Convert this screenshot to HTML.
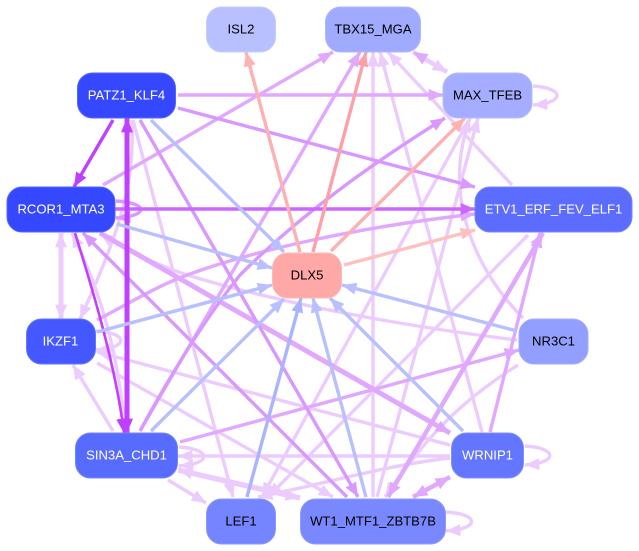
<!DOCTYPE html>
<html><head><meta charset="utf-8"><style>
html,body{margin:0;padding:0;background:#fff}
svg{display:block}
text{font-family:"Liberation Sans",sans-serif;font-size:13.1px;text-anchor:middle;dominant-baseline:central}
</style></head><body>
<svg width="639" height="551" viewBox="0 0 639 551" xmlns="http://www.w3.org/2000/svg">
<defs>
<marker id="l" viewBox="0 -5 12 10" refX="12" refY="0" markerWidth="14.400" markerHeight="12" markerUnits="userSpaceOnUse" orient="auto-start-reverse"><path d="M0,-5L12,0L0,5z" fill="#ecccff"/></marker>
<marker id="p" viewBox="0 -5 12 10" refX="12" refY="0" markerWidth="14.400" markerHeight="12" markerUnits="userSpaceOnUse" orient="auto-start-reverse"><path d="M0,-5L12,0L0,5z" fill="#e0a8ff"/></marker>
<marker id="m" viewBox="0 -5 12 10" refX="12" refY="0" markerWidth="14.400" markerHeight="12" markerUnits="userSpaceOnUse" orient="auto-start-reverse"><path d="M0,-5L12,0L0,5z" fill="#d898ff"/></marker>
<marker id="n" viewBox="0 -5 12 10" refX="12" refY="0" markerWidth="14.400" markerHeight="12" markerUnits="userSpaceOnUse" orient="auto-start-reverse"><path d="M0,-5L12,0L0,5z" fill="#cc66ff"/></marker>
<marker id="s" viewBox="0 -5 12 10" refX="12" refY="0" markerWidth="14.400" markerHeight="12" markerUnits="userSpaceOnUse" orient="auto-start-reverse"><path d="M0,-5L12,0L0,5z" fill="#c040ff"/></marker>
<marker id="b" viewBox="0 -5 12 10" refX="12" refY="0" markerWidth="14.400" markerHeight="12" markerUnits="userSpaceOnUse" orient="auto-start-reverse"><path d="M0,-5L12,0L0,5z" fill="#b8c0ff"/></marker>
<marker id="d" viewBox="0 -5 12 10" refX="12" refY="0" markerWidth="14.400" markerHeight="12" markerUnits="userSpaceOnUse" orient="auto-start-reverse"><path d="M0,-5L12,0L0,5z" fill="#aab4ff"/></marker>
<marker id="r" viewBox="0 -5 12 10" refX="12" refY="0" markerWidth="14.400" markerHeight="12" markerUnits="userSpaceOnUse" orient="auto-start-reverse"><path d="M0,-5L12,0L0,5z" fill="#ffb0b0"/></marker>
<marker id="q" viewBox="0 -5 12 10" refX="12" refY="0" markerWidth="14.400" markerHeight="12" markerUnits="userSpaceOnUse" orient="auto-start-reverse"><path d="M0,-5L12,0L0,5z" fill="#ffa0a8"/></marker>
<marker id="t" viewBox="0 -5 12 10" refX="12" refY="0" markerWidth="14.400" markerHeight="12" markerUnits="userSpaceOnUse" orient="auto-start-reverse"><path d="M0,-5L12,0L0,5z" fill="#ffc0c0"/></marker>
</defs>

<g fill="none" stroke-width="3.400">
<!-- lightest purple -->
<g stroke="#ecccff" marker-end="url(#l)">
<path d="M373,497L373,52"/>
<path d="M482,432L380,52"/>
<path d="M512,185L388,52"/>
<path d="M523,318C480,275 440,200 470,118"/>
<path d="M377,497L478,118"/>
<path d="M470,118L262,497"/>
<path d="M528,235L268,497"/>
<path d="M450,458C387,465 320,485 258,497"/>
<path d="M133,120L233,497"/>
<path d="M168,480L206,503"/>
<path d="M97,363L333,497"/>
<path d="M450,445L97,352"/>
<path d="M517,340C450,332 310,312 187,275C150,262 125,250 100,233"/>
<path d="M450,456L178,456"/>
<path d="M132,120C134,180 125,220 80,319"/>
<path d="M125,431C118,350 100,290 72,233"/>
<path d="M113,431L73,365"/>
<path d="M518,365C470,395 430,430 385,497"/>
<path d="M533,86C565,88 565,103 533,105"/>
<path d="M179,447C212,449 212,464 179,466"/>
<path d="M525,446C558,448 558,463 525,465"/>
<path d="M446,512C480,514 480,529 446,531"/>
<path d="M96,331C129,333 129,348 96,350"/>
<path d="M178,470L300,498" stroke-width="5.500" marker-start="url(#l)"/>
<path d="M61,233L61,319" stroke-width="5" marker-start="url(#l)"/>
<path d="M413,52L447,72" stroke-width="4.500" marker-start="url(#p)"/>
</g>
<!-- light purple -->
<g stroke="#e0a8ff" marker-end="url(#p)">
<path d="M178,95L443,95"/>
<path d="M103,185L333,52"/>
<path d="M140,431L360,52"/>
<path d="M97,320C130,303 155,287 187,275C250,252 350,228 475,214"/>
<path d="M180,442L519,350"/>
<path d="M100,233L450,433" stroke-width="5" />
<path d="M413,497L450,477" stroke-width="4.500" marker-start="url(#p)"/>
<path d="M388,497L543,233" stroke-width="4.500" marker-start="url(#p)"/>
<path d="M490,432L540,233"/>
</g>
<!-- medium purple -->
<g stroke="#d898ff" marker-end="url(#m)">
<path d="M178,108L475,187"/>
<path d="M140,120L358,497"/>
<path d="M140,431C165,385 200,325 240,275C300,215 370,165 445,118"/>
<path d="M347,497L83,233"/>
<path d="M116,201C149,203 149,216 116,218"/>
</g>
<g stroke="#cc66ff" marker-end="url(#n)"><path d="M115,209L475,209"/></g>
<!-- strong purple -->
<g stroke="#c040ff" marker-end="url(#s)">
<path d="M113,120L74,187"/>
<path d="M75,233C88,275 115,360 124,433" stroke-width="2.600"/>
<path d="M127,118L127,433" stroke-width="5" marker-start="url(#s)"/>
</g>
<!-- blue -->
<g stroke="#b8c0ff" marker-end="url(#b)">
<path d="M151,120L284,252"/>
<path d="M117,224L272,268"/>
<path d="M97,332L272,285"/>
<path d="M151,431L284,299"/>
<path d="M366,497L313,298"/>
<path d="M463,431L330,298"/>
<path d="M517,331L342,285"/>
</g>
<g stroke="#aab4ff" marker-end="url(#d)"><path d="M247,497L301,298"/></g>
<!-- red -->
<g stroke="#ffb0b0" marker-end="url(#r)">
<path d="M300,252L246,52"/>
<path d="M331,251L465,118"/>
</g>
<g stroke="#ffa0a8" marker-end="url(#q)"><path d="M313,252L366,52"/></g>
<g stroke="#ffc0c0" marker-end="url(#t)"><path d="M344,265L475,230"/></g>
</g>

<!-- nodes -->
<g stroke-width="1">
<rect x="206.500" y="7" width="69" height="45" rx="15" fill="#b8c0ff" stroke="#c8ceff"/>
<rect x="325.500" y="7" width="95" height="45" rx="15" fill="#a0aaff" stroke="#b0b8ff"/>
<rect x="77.500" y="73" width="98" height="45" rx="15" fill="#3548ff" stroke="#5566ff"/>
<rect x="443" y="73" width="89" height="45" rx="15" fill="#a4adff" stroke="#b4bcff"/>
<rect x="7" y="187" width="108" height="45" rx="15" fill="#3548ff" stroke="#5566ff"/>
<rect x="475" y="187" width="157" height="45" rx="15" fill="#5c6cff" stroke="#7784ff"/>
<rect x="272.500" y="253" width="69" height="45" rx="15" fill="#ffa8a8" stroke="#ffb8b8"/>
<rect x="26.500" y="319" width="69" height="45" rx="15" fill="#4558ff" stroke="#6676ff"/>
<rect x="519" y="319" width="69" height="45" rx="15" fill="#929fff" stroke="#a4afff"/>
<rect x="75.500" y="433" width="102" height="45" rx="15" fill="#586bff" stroke="#7585ff"/>
<rect x="451.500" y="433" width="72" height="45" rx="15" fill="#6475ff" stroke="#8090ff"/>
<rect x="206.500" y="499" width="69" height="45" rx="15" fill="#7585ff" stroke="#8a98ff"/>
<rect x="300.500" y="499" width="145" height="45" rx="15" fill="#7a88ff" stroke="#8f9bff"/>
</g>
<text x="241" y="29" fill="#000">ISL2</text>
<text x="373" y="29" fill="#000">TBX15_MGA</text>
<text x="126.500" y="95" fill="#fff">PATZ1_KLF4</text>
<text x="487.500" y="95" fill="#000">MAX_TFEB</text>
<text x="61" y="209" fill="#fff">RCOR1_MTA3</text>
<text x="553.500" y="209" fill="#fff">ETV1_ERF_FEV_ELF1</text>
<text x="307" y="275" fill="#000">DLX5</text>
<text x="60.500" y="341" fill="#fff">IKZF1</text>
<text x="553.500" y="341" fill="#000">NR3C1</text>
<text x="126.500" y="455" fill="#fff">SIN3A_CHD1</text>
<text x="487.500" y="455" fill="#fff">WRNIP1</text>
<text x="241" y="521" fill="#000">LEF1</text>
<text x="373" y="521" fill="#000">WT1_MTF1_ZBTB7B</text>
</svg>
</body></html>
